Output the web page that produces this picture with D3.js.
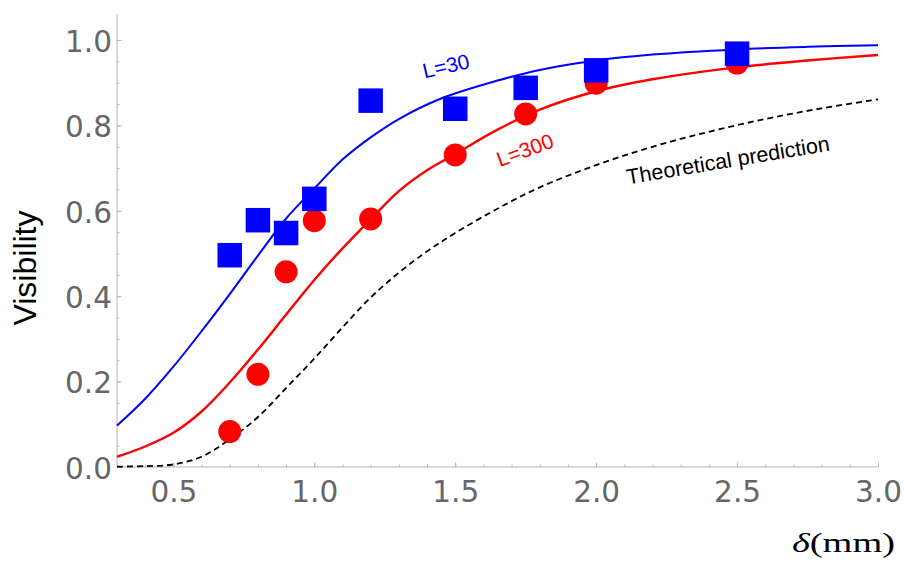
<!DOCTYPE html>
<html>
<head>
<meta charset="utf-8">
<script src="https://cdn.jsdelivr.net/npm/d3@7"></script>
<style>
  body { margin: 0; background: #fff; }
  svg { display: block; }
</style>
</head>
<body>
<div id="chart"></div>
<script>
// measured points (delta in mm, visibility)
var sqX = [0.7, 0.8, 0.9, 1.0, 1.2, 1.5, 1.75, 2.0, 2.5];
var sqY = [0.496, 0.578, 0.548, 0.628, 0.858, 0.839, 0.888, 0.929, 0.968];
var dotX = [0.7, 0.8, 0.9, 1.0, 1.2, 1.5, 1.75, 2.0, 2.5];
var dotY = [0.083, 0.217, 0.457, 0.577, 0.581, 0.731, 0.827, 0.899, 0.946];

// fitted curves
var blueX = [0.3, 0.4, 0.5, 0.6, 0.7, 0.8, 0.9, 1.0, 1.1, 1.2, 1.3, 1.45, 1.65, 1.8, 2.0, 2.2, 2.5, 2.75, 3.0];
var blueY = [0.097, 0.160, 0.235, 0.318, 0.405, 0.495, 0.582, 0.652, 0.720, 0.772, 0.815, 0.863, 0.905, 0.930, 0.952, 0.966, 0.978, 0.984, 0.988];
var redX = [0.3, 0.4, 0.5, 0.6, 0.7, 0.8, 0.9, 1.0, 1.1, 1.2, 1.3, 1.4, 1.5, 1.65, 1.8, 2.0, 2.2, 2.5, 2.75, 3.0];
var redY = [0.024, 0.048, 0.080, 0.130, 0.198, 0.275, 0.357, 0.438, 0.512, 0.580, 0.646, 0.695, 0.733, 0.790, 0.837, 0.880, 0.908, 0.936, 0.952, 0.965];
var thX = [0.3, 0.4, 0.5, 0.6, 0.7, 0.8, 0.9, 1.0, 1.1, 1.2, 1.3, 1.4, 1.5, 1.65, 1.8, 2.0, 2.2, 2.4, 2.6, 2.8, 3.0];
var thY = [0.001, 0.002, 0.006, 0.024, 0.065, 0.117, 0.185, 0.254, 0.327, 0.397, 0.455, 0.505, 0.548, 0.605, 0.655, 0.707, 0.750, 0.785, 0.815, 0.840, 0.861];

var xTicks = [0.5, 1.0, 1.5, 2.0, 2.5, 3.0];
var yTicks = [0.0, 0.2, 0.4, 0.6, 0.8, 1.0];

var width = 904, height = 567;

var svg = d3.select("#chart").append("svg")
    .attr("width", width)
    .attr("height", height);

var x = d3.scaleLinear().domain([0.3, 3.0]).range([117, 878]);
var y = d3.scaleLinear().domain([0, 1.06]).range([467, 14.4]);

var grey = "#b4b4b4";
var labelGrey = "#666666";

// minor ticks
svg.append("g")
    .attr("transform", "translate(0," + y(0) + ")")
    .call(d3.axisBottom(x).tickValues(d3.range(4, 31).map(function(d) { return d / 10; }))
        .tickSize(-2.5).tickFormat(""))
    .call(function(g) { g.select(".domain").remove(); g.selectAll("line").attr("stroke", grey); });
svg.append("g")
    .attr("transform", "translate(" + x(0.3) + ",0)")
    .call(d3.axisLeft(y).tickValues(d3.range(1, 21).map(function(d) { return d / 20; }))
        .tickSize(-2.5).tickFormat(""))
    .call(function(g) { g.select(".domain").remove(); g.selectAll("line").attr("stroke", grey); });

// major ticks + labels
var xAxis = svg.append("g")
    .attr("transform", "translate(0," + y(0) + ")")
    .call(d3.axisBottom(x).tickValues(xTicks).tickSize(-4.5).tickPadding(14)
        .tickFormat(d3.format(".1f")));
xAxis.select(".domain").attr("d", "M" + x(0.3) + ",0H" + x(3.0)).attr("stroke", grey);
xAxis.selectAll("line").attr("stroke", grey);
xAxis.selectAll("text")
    .attr("fill", labelGrey)
    .style("font-family", "'DejaVu Sans', sans-serif")
    .style("font-size", "29.5px")
    .attr("dy", "0.71em");

var yAxis = svg.append("g")
    .attr("transform", "translate(" + x(0.3) + ",0)")
    .call(d3.axisLeft(y).tickValues(yTicks).tickSize(-4.5).tickPadding(5)
        .tickFormat(d3.format(".1f")));
yAxis.select(".domain").attr("d", "M0," + y(0) + "V" + y(1.06)).attr("stroke", grey);
yAxis.selectAll("line").attr("stroke", grey);
yAxis.selectAll("text")
    .attr("fill", labelGrey)
    .style("font-family", "'DejaVu Sans', sans-serif")
    .style("font-size", "29.5px")
    .attr("dy", "0.38em");

// curves
function pairs(xs, ys) { return xs.map(function(d, i) { return [d, ys[i]]; }); }
var line = d3.line()
    .x(function(d) { return x(d[0]); })
    .y(function(d) { return y(d[1]); })
    .curve(d3.curveCatmullRom.alpha(0.5));

svg.append("path")
    .attr("d", line(pairs(thX, thY)))
    .attr("fill", "none")
    .attr("stroke", "#000")
    .attr("stroke-width", 1.8)
    .attr("stroke-dasharray", "6,4");

svg.append("path")
    .attr("d", line(pairs(redX, redY)))
    .attr("fill", "none")
    .attr("stroke", "#ff0000")
    .attr("stroke-width", 2.4);

svg.append("path")
    .attr("d", line(pairs(blueX, blueY)))
    .attr("fill", "none")
    .attr("stroke", "#0000ff")
    .attr("stroke-width", 2);

// markers
svg.selectAll("circle.dot")
    .data(pairs(dotX, dotY))
    .enter()
    .append("circle")
      .attr("class", "dot")
      .attr("cx", function(d) { return x(d[0]); })
      .attr("cy", function(d) { return y(d[1]); })
      .attr("r", 11.5)
      .attr("fill", "#ff0000");

var s = 24.5;
svg.selectAll("rect.sq")
    .data(pairs(sqX, sqY))
    .enter()
    .append("rect")
      .attr("class", "sq")
      .attr("x", function(d) { return x(d[0]) - s / 2; })
      .attr("y", function(d) { return y(d[1]) - s / 2; })
      .attr("width", s)
      .attr("height", s)
      .attr("fill", "#0000ff");

// annotations
function note(txt, cx, cy, angle, color, size) {
  svg.append("text")
      .attr("transform", "translate(" + cx + "," + cy + ")rotate(" + angle + ")")
      .attr("text-anchor", "middle")
      .attr("dy", "0.35em")
      .attr("fill", color)
      .style("font-family", "'Liberation Sans', Arial, sans-serif")
      .style("font-size", size + "px")
      .text(txt);
}
note("L=30", 446, 66, -13, "#0000ff", 21);
note("L=300", 525, 150, -20, "#ff0000", 21);
note("Theoretical prediction", 728, 160, -9.5, "#000", 21.5);

// axis titles
svg.append("text")
    .attr("transform", "translate(36,268)rotate(-90)")
    .attr("text-anchor", "middle")
    .attr("fill", "#000")
    .style("font-family", "'Liberation Sans', Arial, sans-serif")
    .style("font-size", "32px")
    .text("Visibility");

var xt = svg.append("text")
    .attr("x", 792)
    .attr("y", 552)
    .attr("textLength", 103)
    .attr("lengthAdjust", "spacingAndGlyphs")
    .attr("fill", "#000")
    .style("font-family", "'Liberation Serif', 'Times New Roman', serif")
    .style("font-size", "28px");
xt.append("tspan").style("font-style", "italic").text("δ");
xt.append("tspan").text("(mm)");
</script>
</body>
</html>
